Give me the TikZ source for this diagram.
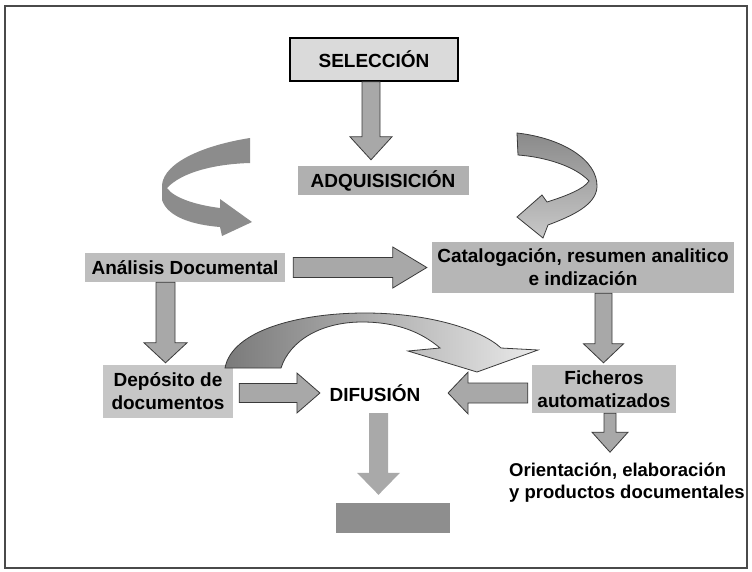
\documentclass[tikz,border=0pt]{standalone}
\usepackage{fontspec}
\setmainfont{Liberation Sans}
\usetikzlibrary{calc}
\definecolor{framegray}{HTML}{4A4A4A}
\definecolor{sellight}{HTML}{DADADA}
\definecolor{adqgray}{HTML}{B0B0B0}
\definecolor{anagray}{HTML}{BEBEBE}
\definecolor{catgray}{HTML}{B6B6B6}
\definecolor{depgray}{HTML}{C6C6C6}
\definecolor{ficgray}{HTML}{C0C0C0}
\definecolor{outgray}{HTML}{8E8E8E}
\definecolor{arrgray}{HTML}{A8A8A8}
\definecolor{arrline}{HTML}{3A3A3A}
\definecolor{lightarr}{HTML}{A9A9A9}
\definecolor{curvegray}{HTML}{8C8C8C}
\definecolor{rcurvetop}{HTML}{8A8A8A}
\definecolor{rcurvebot}{HTML}{C8C8C8}
\definecolor{bigleft}{HTML}{7A7A7A}
\definecolor{bigright}{HTML}{EAEAEA}
\tikzset{
  lbl/.style={font=\bfseries\fontsize{19}{23}\selectfont, inner sep=0pt, align=center},
  barrow/.style n args={3}{draw=arrline, fill=arrgray, line width=0.8pt, line join=miter,
    to path={($(\tikztostart)!#1!90:(\tikztotarget)$)
      -- ($($(\tikztotarget)!#3!(\tikztostart)$)!#1!90:(\tikztotarget)$)
      -- ($($(\tikztotarget)!#3!(\tikztostart)$)!#2!90:(\tikztotarget)$)
      -- (\tikztotarget)
      -- ($($(\tikztotarget)!#3!(\tikztostart)$)!#2!-90:(\tikztotarget)$)
      -- ($($(\tikztotarget)!#3!(\tikztostart)$)!#1!-90:(\tikztotarget)$)
      -- ($(\tikztostart)!#1!-90:(\tikztotarget)$) -- cycle}}
}
\begin{document}
\begin{tikzpicture}[x=1pt,y=-1pt]
    \useasboundingbox (0,0) rectangle (752,571);
    \draw[framegray,line width=1.3pt] (5,6) rectangle (747,568);
    \node[lbl,draw=black,line width=1.5pt,fill=sellight,minimum width=168pt,minimum height=43pt] (sel) at (374,59.5) {SELECCIÓN};
    \node[lbl,fill=adqgray,minimum width=171pt,minimum height=29pt] (adq) at (383,180.5) {ADQUISISICIÓN};
    \node[lbl,fill=anagray,minimum width=200pt,minimum height=29pt] (ana) at (185,267.5) {Análisis Documental};
    \node[lbl,fill=catgray,minimum width=302pt,minimum height=51pt] (cat) at (583,267.5) {Catalogación, resumen analitico\\e indización};
    \node[lbl,fill=depgray,minimum width=130pt,minimum height=53pt] (dep) at (168,391.5) {Depósito de\\documentos};
    \node[lbl,fill=ficgray,minimum width=144pt,minimum height=48pt] (fic) at (604,389) {Ficheros\\automatizados};
    \node[lbl,minimum height=30pt] (dif) at (375,393) {DIFUSIÓN};
    \node[lbl,font=\bfseries\fontsize{18.5}{22}\selectfont,align=left,anchor=west] (ori) at (509,482.5) {Orientación, elaboración\\y productos documentales};
    \node[fill=outgray,minimum width=114pt,minimum height=30pt,inner sep=0pt] (out) at (393,518) {};
    % curved arrows
    \fill[curvegray] (250,138) .. controls (205,145) and (164,162) .. (162,185)
      -- (162,200) .. controls (168,218) and (195,225) .. (220,227)
      -- (222,236) -- (252,222) -- (220,199) -- (220,208)
      .. controls (196,205) and (174,198) .. (167,188)
      .. controls (182,172) and (215,164) .. (250,163) -- cycle;
    \draw[arrline,line width=0.8pt,top color=rcurvetop,bottom color=rcurvebot] (517,133)
      .. controls (562,138) and (598,160) .. (597,187)
      .. controls (596,205) and (572,216) .. (548,225)
      -- (543,238) -- (517,217) -- (542,195) -- (547,202)
      .. controls (566,196) and (584,189) .. (589,181)
      .. controls (575,166) and (545,157) .. (518,155) -- cycle;
    \draw[arrline,line width=0.8pt,left color=bigleft,right color=bigright] (225,368)
      .. controls (232,330) and (300,313) .. (365,313)
      .. controls (430,313) and (482,330) .. (501,348)
      -- (538,350) -- (477,372) -- (408,351) -- (440,348)
      .. controls (420,331) and (395,322) .. (362,322)
      .. controls (322,322) and (290,340) .. (281,368) -- cycle;
    % block arrows
    \draw[barrow={9pt}{21pt}{23pt}] ([xshift=-3pt]sel.south) to ([xshift=-3pt,yshift=6pt]sel.south |- adq.north);
    \draw[barrow={10pt}{20.5pt}{34pt}] ([xshift=8pt]ana.east) to ([xshift=-5pt]cat.west);
    \draw[barrow={9.5pt}{21.5pt}{20pt}] ([xshift=-19.5pt]ana.south) to ([xshift=-2.5pt,yshift=2pt]dep.north);
    \draw[barrow={8.5pt}{20pt}{19pt}] ([xshift=20.5pt]cat.south) to ([xshift=-0.5pt,yshift=2pt]fic.north);
    \draw[barrow={9.5pt}{20pt}{23pt}] ([xshift=6pt]dep.east |- dif.west) to ([xshift=-9.5pt]dif.west);
    \draw[barrow={10pt}{21pt}{20pt}] ([xshift=-4pt]fic.west |- dif.east) to ([xshift=27.5pt]dif.east);
    \draw[barrow={9.5pt}{21.5pt}{22pt},draw=none,fill=lightarr] ([xshift=3.5pt,yshift=-5pt]dif.south) to ([xshift=-14.5pt,yshift=8pt]out.north);
    \draw[barrow={6pt}{18pt}{20pt}] ([xshift=6pt]fic.south) to ([xshift=6pt,yshift=-39pt]fic.south);
\end{tikzpicture}
\end{document}
